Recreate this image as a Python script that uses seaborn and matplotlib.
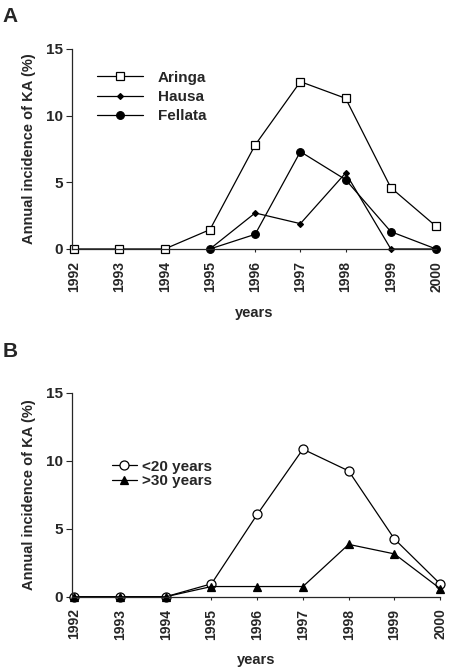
import numpy as np
import pandas as pd
import matplotlib
matplotlib.use("Agg")
import matplotlib.pyplot as plt
import seaborn as sns

# data
years = [1992, 1993, 1994, 1995, 1996, 1997, 1998, 1999, 2000]

aringa = [0, 0, 0, 1.45, 7.8, 12.55, 11.3, 4.6, 1.7]
hausa = [np.nan, np.nan, np.nan, 0, 2.7, 1.9, 5.7, 0, 0]
fellata = [np.nan, np.nan, np.nan, 0, 1.1, 7.3, 5.2, 1.3, 0]

under20 = [0, 0, 0, 0.95, 6.05, 10.85, 9.25, 4.25, 0.95]
over30 = [0, 0, 0, 0.75, 0.75, 0.75, 3.85, 3.15, 0.6]

sns.set_style("ticks")
plt.rcParams['font.family'] = ['Liberation Sans', 'DejaVu Sans']
plt.rcParams['font.weight'] = 'bold'

fig = plt.figure(figsize=(4.5, 6.72), dpi=100)
axA = fig.add_axes([0.16, 0.6295, 0.809, 0.2976])
axB = fig.add_axes([0.16, 0.112, 0.818, 0.3036])


def draw(ax, y, label, marker, ms, mfc):
    df = pd.DataFrame({'year': years, 'value': y})
    sns.lineplot(data=df, x='year', y='value', ax=ax, color='black', lw=0.9,
                 marker=marker, markersize=ms, markerfacecolor=mfc,
                 markeredgecolor='black', markeredgewidth=0.9, label=label,
                 clip_on=False)


draw(axA, aringa, 'Aringa', 's', 6, 'white')
draw(axA, hausa, 'Hausa', 'D', 3, 'black')
draw(axA, fellata, 'Fellata', 'o', 5.5, 'black')

draw(axB, under20, '<20 years', 'o', 6.5, 'white')
draw(axB, over30, '>30 years', '^', 5.5, 'black')

for ax in (axA, axB):
    ax.set_xlim(1991.95, 2000.0)
    ax.set_ylim(0, 15)
    ax.set_yticks([0, 5, 10, 15])
    ax.set_xticks(years)
    ax.set_xticklabels([str(y) for y in years], rotation=90, fontsize=10,
                       fontweight='bold')
    ax.tick_params(axis='y', labelsize=11, length=4.5, width=0.8, pad=2)
    ax.tick_params(axis='x', length=2.5, width=0.8, pad=6)
    for lab in ax.get_yticklabels():
        lab.set_fontweight('bold')
    ax.set_xlabel('years', fontsize=10.5, fontweight='bold', labelpad=10)
    ax.set_ylabel('Annual incidence of KA (%)', fontsize=10.5,
                  fontweight='bold', labelpad=7)
    sns.despine(ax=ax)
    for s in ('left', 'bottom'):
        ax.spines[s].set_linewidth(0.9)

legA = axA.legend(loc='upper left', bbox_to_anchor=(0.03, 0.96), frameon=False,
                  handlelength=3.0, handletextpad=1.0, labelspacing=0.35,
                  prop={'weight': 'bold', 'size': 11})
legB = axB.legend(loc='upper left', bbox_to_anchor=(0.07, 0.74), frameon=False,
                  handlelength=1.65, handletextpad=0.33, labelspacing=0.05,
                  prop={'weight': 'bold', 'size': 11})

fig.text(0.005, 0.99, 'A', fontsize=15, fontweight='bold', va='top')
fig.text(0.005, 0.491, 'B', fontsize=15, fontweight='bold', va='top')

fig.savefig('out.png', dpi=100)
